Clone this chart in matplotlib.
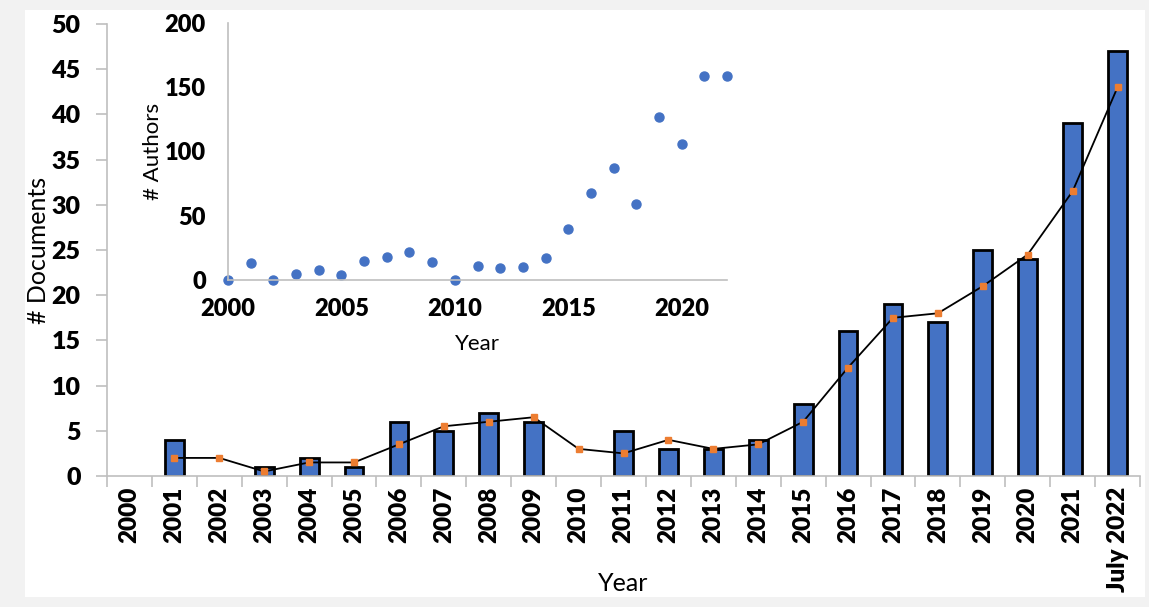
import numpy as np
import matplotlib.pyplot as plt
from matplotlib.patches import Rectangle

plt.rcParams['font.family'] = ['Lato', 'DejaVu Sans']

# documents per year (bars)
years = ['2000', '2001', '2002', '2003', '2004', '2005', '2006', '2007',
         '2008', '2009', '2010', '2011', '2012', '2013', '2014', '2015',
         '2016', '2017', '2018', '2019', '2020', '2021', 'July 2022']
documents = [0, 4, 0, 1, 2, 1, 6, 5, 7, 6, 0, 5, 3, 3, 4, 8, 16, 19, 17, 25, 24, 39, 47]

# 2-period moving average trendline (starts at 2001)
trend = [2, 2, 0.5, 1.5, 1.5, 3.5, 5.5, 6, 6.5, 3, 2.5, 4, 3, 3.5, 6,
         12, 17.5, 18, 21, 24.5, 31.5, 43]

# inset: authors per year
author_years = list(range(2000, 2023))
authors = [0, 13, 0, 5, 8, 4, 15, 18, 22, 14, 0, 11, 9, 10, 17, 40,
           68, 87, 59, 127, 106, 159, 159]

blue = '#4472C4'
orange = '#ED7D31'
grey = '#BFBFBF'
tick_weight = 'heavy'

fig = plt.figure(figsize=(11.49, 6.07), dpi=100, facecolor='#F2F2F2')
fig.patches.append(Rectangle((25/1149, 1-597/607), 1120/1149, 587/607,
                             transform=fig.transFigure, facecolor='white',
                             edgecolor='none', zorder=-10))

ax = fig.add_axes([107/1149, 1-476/607, 1033/1149, 452/607])
ax.patch.set_alpha(0)
x = np.arange(len(years))
edges = ['black' if v > 0 else 'none' for v in documents]
ax.bar(x, documents, width=0.42, color=blue, edgecolor=edges, linewidth=2, zorder=2)
ax.plot(x[1:], trend, color='black', lw=1.3, marker='s', markersize=5,
        markerfacecolor=orange, markeredgecolor=orange, zorder=3)

ax.set_xlim(-0.5, len(years) - 0.5)
ax.set_ylim(0, 50)
ax.set_yticks(range(0, 51, 5))
ax.set_xticks(x)
ax.set_xticklabels(years, rotation=90, fontweight=tick_weight, fontsize=17.5, va='top')
ax.set_xticks(np.arange(-0.5, len(years), 1), minor=True)
ax.tick_params(axis='x', which='major', length=0, pad=8)
ax.tick_params(axis='x', which='minor', length=8, width=1.2, color=grey)
ax.tick_params(axis='y', length=8, width=1.2, color=grey, pad=11, labelsize=18)
for lab in ax.get_yticklabels():
    lab.set_fontweight(tick_weight)
for s in ['top', 'right']:
    ax.spines[s].set_visible(False)
for s in ['left', 'bottom']:
    ax.spines[s].set_color(grey)
    ax.spines[s].set_linewidth(1.2)
ax.set_ylabel('# Documents', fontsize=18, va='center')
ax.yaxis.set_label_coords(-0.066, 0.5)
ax.set_xlabel('Year', fontsize=18, va='center')
ax.xaxis.set_label_coords(0.5, -0.237)

# inset scatter
ins = fig.add_axes([228/1149, 1-280/607, 499/1149, 257/607])
ins.patch.set_alpha(0)
ins.plot(author_years, authors, 'o', color=blue, markersize=6.5, clip_on=False)
ins.set_xlim(2000, 2022)
ins.set_ylim(0, 200)
ins.set_xticks(range(2000, 2021, 5))
ins.set_yticks(range(0, 201, 50))
ins.tick_params(length=0, labelsize=17)
ins.tick_params(axis='x', pad=13)
ins.tick_params(axis='y', pad=16)
for lab in ins.get_xticklabels() + ins.get_yticklabels():
    lab.set_fontweight(tick_weight)
for s in ['top', 'right']:
    ins.spines[s].set_visible(False)
for s in ['left', 'bottom']:
    ins.spines[s].set_color(grey)
    ins.spines[s].set_linewidth(1.2)
ins.set_ylabel('# Authors', fontsize=16, va='center')
ins.yaxis.set_label_coords(-0.15, 0.5)
ins.set_xlabel('Year', fontsize=16, va='center')
ins.xaxis.set_label_coords(0.5, -0.249)

fig.savefig('out.png', dpi=100, facecolor=fig.get_facecolor())
